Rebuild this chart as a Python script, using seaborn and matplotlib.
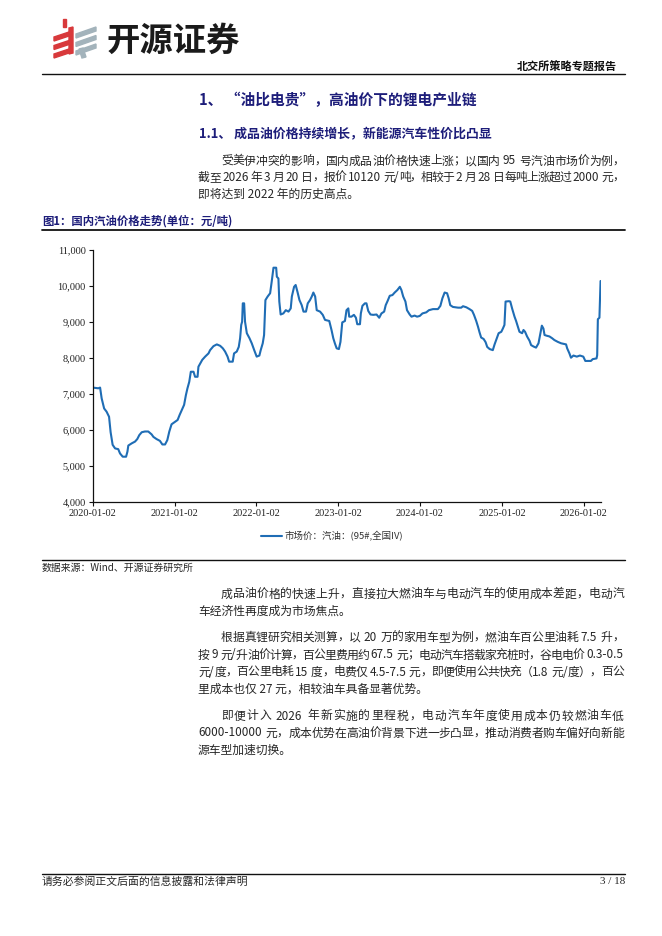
import re
import pandas as pd
import numpy as np
import matplotlib
matplotlib.use("Agg")
import matplotlib.pyplot as plt
import matplotlib.ticker as mticker
from matplotlib.patches import Polygon
import seaborn as sns

sns.set_theme(style="ticks")
plt.rcParams['font.family'] = ['Noto Sans CJK SC', 'DejaVu Sans']
plt.rcParams['axes.unicode_minus'] = False

# ---- chart data (元/吨) ----
dates = [
    '2020-01-02', '2020-01-27', '2020-02-04', '2020-02-11', '2020-02-22', '2020-03-04',
    '2020-03-15', '2020-03-22', '2020-03-31', '2020-04-11', '2020-04-25', '2020-05-03',
    '2020-05-15', '2020-05-30', '2020-06-05', '2020-06-09', '2020-06-24', '2020-07-09',
    '2020-07-19', '2020-07-28', '2020-08-08', '2020-08-22', '2020-09-06', '2020-09-21',
    '2020-09-29', '2020-10-13', '2020-10-28', '2020-11-08', '2020-11-20', '2020-11-30',
    '2020-12-09', '2020-12-19', '2021-01-04', '2021-01-15', '2021-01-24', '2021-02-03',
    '2021-02-13', '2021-02-21', '2021-02-28', '2021-03-08', '2021-03-15', '2021-03-27',
    '2021-04-03', '2021-04-14', '2021-04-18', '2021-04-26', '2021-05-05', '2021-05-18',
    '2021-06-02', '2021-06-09', '2021-06-24', '2021-07-09', '2021-07-24', '2021-08-05',
    '2021-08-15', '2021-08-26', '2021-09-02', '2021-09-18', '2021-09-24', '2021-10-06',
    '2021-10-15', '2021-10-21', '2021-10-26', '2021-10-30', '2021-11-02', '2021-11-08',
    '2021-11-12', '2021-11-20', '2021-12-02', '2021-12-12', '2021-12-23', '2022-01-03',
    '2022-01-15', '2022-01-21', '2022-01-30', '2022-02-05', '2022-02-11', '2022-02-21',
    '2022-03-04', '2022-03-11', '2022-03-19', '2022-03-31', '2022-04-03', '2022-04-10',
    '2022-04-14', '2022-04-20', '2022-05-02', '2022-05-13', '2022-05-25', '2022-06-04',
    '2022-06-09', '2022-06-19', '2022-06-26', '2022-07-04', '2022-07-13', '2022-07-23',
    '2022-07-31', '2022-08-11', '2022-08-19', '2022-08-29', '2022-09-06', '2022-09-13',
    '2022-09-21', '2022-09-28', '2022-10-13', '2022-10-25', '2022-11-04', '2022-11-23',
    '2022-12-03', '2022-12-11', '2022-12-18', '2022-12-26', '2023-01-05', '2023-01-12',
    '2023-01-20', '2023-02-01', '2023-02-08', '2023-02-16', '2023-02-20', '2023-03-02',
    '2023-03-13', '2023-03-22', '2023-03-28', '2023-04-09', '2023-04-13', '2023-04-20',
    '2023-05-01', '2023-05-08', '2023-05-16', '2023-05-26', '2023-06-07', '2023-06-22',
    '2023-07-04', '2023-07-14', '2023-07-26', '2023-08-02', '2023-08-10', '2023-08-20',
    '2023-09-01', '2023-09-11', '2023-09-23', '2023-10-04', '2023-10-11', '2023-10-19',
    '2023-10-29', '2023-11-05', '2023-11-17', '2023-11-25', '2023-12-09', '2023-12-20',
    '2024-01-01', '2024-01-13', '2024-01-30', '2024-02-11', '2024-02-29', '2024-03-22',
    '2024-04-02', '2024-04-11', '2024-04-21', '2024-05-02', '2024-05-09', '2024-05-16',
    '2024-05-28', '2024-06-20', '2024-07-04', '2024-07-12', '2024-07-27', '2024-08-10',
    '2024-08-22', '2024-08-30', '2024-09-09', '2024-09-17', '2024-09-24', '2024-10-01',
    '2024-10-12', '2024-10-21', '2024-10-28', '2024-11-08', '2024-11-22', '2024-11-30',
    '2024-12-07', '2024-12-18', '2024-12-30', '2025-01-06', '2025-01-13', '2025-01-18',
    '2025-02-02', '2025-02-08', '2025-02-17', '2025-02-27', '2025-03-06', '2025-03-14',
    '2025-03-21', '2025-04-02', '2025-04-08', '2025-04-15', '2025-04-24', '2025-05-05',
    '2025-05-12', '2025-05-23', '2025-06-03', '2025-06-14', '2025-06-21', '2025-06-29',
    '2025-07-06', '2025-07-11', '2025-07-21', '2025-08-02', '2025-08-14', '2025-08-24',
    '2025-09-08', '2025-09-23', '2025-10-15', '2025-10-20', '2025-10-30', '2025-11-06',
    '2025-11-17', '2025-12-02', '2025-12-16', '2025-12-31', '2026-01-09', '2026-02-03',
    '2026-02-11', '2026-02-28', '2026-03-03', '2026-03-06', '2026-03-13', '2026-03-18',
    '2026-03-20',
]
price = [
    7170, 7150, 7170, 6870, 6590, 6500,
    6360, 5930, 5580, 5480, 5460, 5340,
    5250, 5250, 5390, 5560, 5620, 5670,
    5740, 5850, 5930, 5950, 5950, 5870,
    5800, 5740, 5690, 5590, 5590, 5710,
    5950, 6150, 6220, 6270, 6410, 6550,
    6690, 6960, 7150, 7330, 7610, 7610,
    7470, 7470, 7750, 7840, 7940, 8030,
    8120, 8210, 8320, 8370, 8330, 8260,
    8170, 8030, 7890, 7890, 8120, 8170,
    8300, 8540, 8910, 9000, 9510, 9510,
    9000, 8680, 8540, 8400, 8210, 8030,
    8060, 8210, 8400, 8630, 9600, 9700,
    9790, 10110, 10500, 10500, 10250, 10200,
    9560, 9200, 9230, 9320, 9280, 9370,
    9700, 9970, 10020, 9830, 9600, 9460,
    9280, 9280, 9510, 9600, 9700, 9810,
    9700, 9320, 9280, 9190, 9050, 9020,
    8770, 8540, 8400, 8260, 8240, 8440,
    8980, 9020, 9320, 9370, 9140, 9140,
    9190, 9110, 8930, 8930, 9230, 9440,
    9510, 9510, 9300, 9200, 9190, 9200,
    9110, 9230, 9280, 9460, 9570, 9720,
    9740, 9810, 9880, 9970, 9880, 9700,
    9560, 9320, 9200, 9140, 9170, 9140,
    9160, 9230, 9260, 9320, 9350, 9350,
    9440, 9650, 9810, 9790, 9650, 9460,
    9410, 9390, 9390, 9430, 9400, 9350,
    9300, 9190, 9020, 8860, 8700, 8560,
    8520, 8430, 8300, 8240, 8210, 8370,
    8490, 8680, 8720, 8810, 8910, 9560,
    9570, 9560, 9350, 9140, 9020, 8860,
    8720, 8680, 8770, 8720, 8590, 8470,
    8350, 8310, 8280, 8400, 8630, 8890,
    8810, 8630, 8610, 8590, 8540, 8490,
    8440, 8400, 8370, 8260, 8120, 8000,
    8060, 8030, 8060, 8030, 7910, 7910,
    7960, 7980, 8070, 9070, 9110, 10130,
    10120,
]
x_ticks = ['2020-01-02', '2021-01-02', '2022-01-02', '2023-01-02',
           '2024-01-02', '2025-01-02', '2026-01-02']
y_ticks = [4000, 5000, 6000, 7000, 8000, 9000, 10000, 11000]
series_name = '市场价：汽油：(95#,全国IV)'

# ---- page text ----
header_right = '北交所策略专题报告'
title = '1、 “油比电贵”，高油价下的锂电产业链'
subtitle = '1.1、 成品油价格持续增长，新能源汽车性价比凸显'
para1 = ['受美伊冲突的影响，国内成品油价格快速上涨；以国内 95 号汽油市场价为例，',
         '截至 2026 年 3 月 20 日，报价 10120 元/吨，相较于 2 月 28 日每吨上涨超过 2000 元，',
         '即将达到 2022 年的历史高点。']
fig_caption = '图1：国内汽油价格走势(单位：元/吨)'
source = '数据来源：Wind、开源证券研究所'
para2 = ['成品油价格的快速上升，直接拉大燃油车与电动汽车的使用成本差距，电动汽',
         '车经济性再度成为市场焦点。']
para3 = ['根据真锂研究相关测算，以 20 万的家用车型为例，燃油车百公里油耗 7.5 升，',
         '按 9 元/升油价计算，百公里费用约 67.5 元；电动汽车搭载家充桩时，谷电电价 0.3-0.5',
         '元/度，百公里电耗 15 度，电费仅 4.5-7.5 元，即便使用公共快充（1.8 元/度），百公',
         '里成本也仅 27 元，相较油车具备显著优势。']
para4 = ['即便计入 2026 年新实施的里程税，电动汽车年度使用成本仍较燃油车低',
         '6000-10000 元，成本优势在高油价背景下进一步凸显，推动消费者购车偏好向新能',
         '源车型加速切换。']
footer = '请务必参阅正文后面的信息披露和法律声明'
page_no = '3 / 18'

NAVY = '#1d1d7a'
TEXT = '#262626'
LINE_BLUE = '#1f6db5'
CJK = ['Noto Sans CJK SC', 'DejaVu Sans']

W, H = 662, 936
fig = plt.figure(figsize=(W / 100, H / 100), dpi=100)
fig.patch.set_facecolor('white')

# page layer in pixel coordinates
page = fig.add_axes([0, 0, 1, 1])
page.set_xlim(0, W)
page.set_ylim(H, 0)
page.axis('off')
renderer = fig.canvas.get_renderer()


def text_line(s, x0, x1, y, size, color=TEXT, weight='normal', justify=True):
    # justified line: CJK glyphs take one em, latin runs are measured
    if not justify:
        page.text(x0, y, s, fontsize=size, color=color, fontweight=weight,
                  family=CJK, va='center', ha='left')
        return
    em = size / 72 * 100
    toks = re.findall(r'[0-9A-Za-z.\-/#]+| |.', s)
    widths = []
    for t in toks:
        if t == ' ':
            widths.append(em * 0.25)
        elif ord(t[0]) > 0x2000:
            widths.append(em)
        else:
            tt = page.text(0, 0, t, fontsize=size, fontweight=weight, family=CJK)
            widths.append(tt.get_window_extent(renderer).width + em * 0.08)
            tt.remove()
    gap = (x1 - x0 - sum(widths)) / max(len(toks) - 1, 1)
    x = x0
    for t, w in zip(toks, widths):
        if t != ' ':
            page.text(x, y, t, fontsize=size, color=color, fontweight=weight,
                      family=CJK, va='center', ha='left')
        x += w + gap


def paragraph(lines, ys, size=8.5):
    for i, (s, y) in enumerate(zip(lines, ys)):
        x0 = 221 if i == 0 else 198
        last = i == len(lines) - 1
        text_line(s, x0, 624, y, size, justify=not last)


# ---- logo ----
red = '#d8393b'
grey = '#a3b3bb'
page.add_patch(Polygon([(63, 19), (66, 19), (66, 27), (63, 27)], color=red))
for i in range(3):
    y0 = 33 + i * 8.5
    page.add_patch(Polygon([(54, y0 + 4), (72, y0 - 2), (72, y0 + 2), (54, y0 + 8)], color=red))
page.add_patch(Polygon([(69, 28), (73, 27), (73, 53), (69, 54)], color=red))
for i in range(3):
    y0 = 30 + i * 8.5
    page.add_patch(Polygon([(76, y0 + 4), (96, y0 - 3), (96, y0 + 1), (76, y0 + 8)], color=grey))
page.add_patch(Polygon([(79, 49), (83, 48), (86, 57), (82, 58)], color=grey))
page.text(107, 41, '开源证券', fontsize=24, fontweight='bold', color='#1a1a1a',
          family=CJK, va='center', ha='left')

# ---- header / headings ----
page.text(617, 67, header_right, fontsize=8, fontweight='bold', color='#111111',
          family=CJK, va='center', ha='right')
page.plot([42, 625], [73.5, 73.5], color='#111111', lw=1.0)
page.text(199, 100, title, fontsize=10.6, fontweight='bold', color=NAVY,
          family=CJK, va='center', ha='left')
page.text(199, 134, subtitle, fontsize=9.3, fontweight='bold', color=NAVY,
          family=CJK, va='center', ha='left')
paragraph(para1, [161, 177.5, 194])

page.text(42, 221, fig_caption, fontsize=8.2, fontweight='bold', color=NAVY,
          family=CJK, va='center', ha='left')
page.plot([42, 625], [229.5, 229.5], color='#111111', lw=1.3)
page.plot([42, 625], [559.5, 559.5], color='#111111', lw=1.0)
page.text(42, 568, source, fontsize=7.1, color=TEXT, family=CJK, va='center', ha='left')

paragraph(para2, [594, 611])
paragraph(para3, [637.5, 655, 672, 689])
paragraph(para4, [716, 733, 750])

page.plot([42, 625], [873.5, 873.5], color='#111111', lw=1.0)
page.text(42, 882, footer, fontsize=7.8, color=TEXT, family=CJK, va='center', ha='left')
page.text(625, 882, page_no, fontsize=8, color=TEXT, family='Liberation Serif',
          va='center', ha='right')

# ---- chart ----
left, right, top, bottom = 92.7, 601, 249.7, 501.7
ax = fig.add_axes([left / W, 1 - bottom / H, (right - left) / W, (bottom - top) / H])
ax.patch.set_alpha(0)

df = pd.DataFrame({'date': pd.to_datetime(dates), 'price': price})
sns.lineplot(data=df, x='date', y='price', ax=ax, color=LINE_BLUE, lw=1.5,
             label=series_name)

ax.set_xlim(df['date'].min(), df['date'].max())
ax.set_ylim(4000, 11000)
ax.set_yticks(y_ticks)
ax.yaxis.set_major_formatter(mticker.FuncFormatter(lambda v, p: f'{int(v):,}'))
ax.set_xticks(pd.to_datetime(x_ticks))
ax.set_xticklabels(x_ticks)
ax.set_xlabel('')
ax.set_ylabel('')
for lab in ax.get_xticklabels() + ax.get_yticklabels():
    lab.set_fontfamily('Liberation Serif')
    lab.set_fontsize(7.4)
    lab.set_color('#222222')
ax.tick_params(axis='both', direction='out', length=3, width=0.8, color='#111111', pad=2)
sns.despine(ax=ax)
for side in ['left', 'bottom']:
    ax.spines[side].set_color('#111111')
    ax.spines[side].set_linewidth(0.9)

leg = ax.legend(loc='center', bbox_to_anchor=(332 / W, 1 - 536 / H),
                bbox_transform=fig.transFigure, frameon=False, handlelength=2.2,
                handletextpad=0.3, prop={'family': CJK, 'size': 6.8})
for t in leg.get_texts():
    t.set_color('#333333')

fig.savefig('out.png', dpi=100, facecolor='white')
